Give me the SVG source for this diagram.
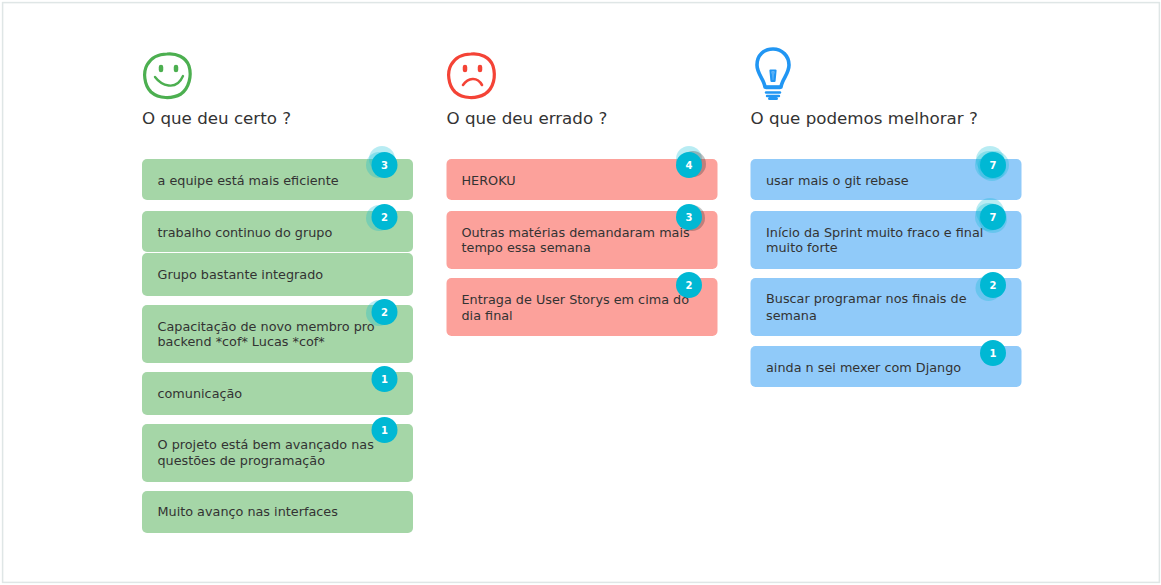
<svg xmlns="http://www.w3.org/2000/svg" width="1161" height="585" viewBox="0 0 1161 585">
<style>
.t{font-family:"DejaVu Sans",sans-serif;font-size:12.8px;fill:#333;}
.h{font-family:"DejaVu Sans",sans-serif;font-size:16.7px;fill:#333;}
.b{font-family:"DejaVu Sans",sans-serif;font-size:10px;font-weight:bold;fill:#fff;text-anchor:middle;}
.g{fill:#a5d6a7}.r{fill:#fca19b}.u{fill:#90caf9}
.bc{fill:#00b8d4}
.gh{fill:#00bcd4;opacity:.28}
.gk{fill:#333;opacity:.3}
.ic{fill:none;stroke-width:3.2;stroke-linecap:round;stroke-linejoin:round}
</style>
<rect x="2.600" y="2.600" width="1156.800" height="579.800" fill="#fff" stroke="#dfe6e6" stroke-width="1.500"/>

<g id="icon-happy" class="ic" stroke="#4caf50">
<path d="M167 54C176 53 186 57 189 66C192 76 189 88 181 94C172 99 159 99 151 92C144 85 143 72 147 65C151 58 158 54 167 54Z"/>
<path d="M155 77C161 85 176 92 183 76" stroke-width="2.400"/>
<path d="M161 67v3M176 67v3" stroke-width="4.500"/>
</g>
<text id="head-1" class="h" x="142" y="124">O que deu certo ?</text>

<g id="icon-sad" class="ic" stroke="#f44336">
<path d="M471 54C480 53 490 57 493 66C496 76 494 88 485 94C476 99 463 99 455 92C448 85 447 72 451 65C455 58 462 54 471 54Z"/>
<path d="M463 85C468 78 477 76 482 85" stroke-width="2.600"/>
<path d="M465 67v3M480 67v3" stroke-width="4.500"/>
</g>
<text id="head-2" class="h" x="446.500" y="124">O que deu errado ?</text>

<g id="icon-bulb" class="ic" stroke="#2196f3">
<path d="M765 87C764 79 757 74 757 65C757 55 764 49 773 49C782 49 789 56 789 65C789 74 782 79 781 87Z" stroke-width="3.600"/>
<path d="M766 87.500H780" stroke-width="3.500"/>
<path d="M766 92.500H780" stroke-width="2.400"/>
<path d="M767 96H779" stroke-width="2.400"/>
<path d="M769.500 98.500H776.500" stroke-width="3"/>
<path d="M770.500 70.500L775.500 70.500L774.500 81L771.500 81Z" stroke-width="2.200"/>
<path d="M773 72V80" stroke-width="1.500"/>
</g>
<text id="head-3" class="h" x="750.500" y="124">O que podemos melhorar ?</text>

<g id="card-g1"><rect class="g" x="142" y="159" width="271" height="41" rx="5"/><text class="t" x="157.500" y="185">a equipe está mais eficiente</text>
<circle class="gh" cx="382" cy="159" r="13"/><circle class="gh" cx="379" cy="165" r="13"/><circle class="bc" cx="384.500" cy="165" r="13"/><text class="b" x="384.500" y="168.500">3</text></g>
<g id="card-g2"><rect class="g" x="142" y="211" width="271" height="41" rx="5"/><text class="t" x="157.500" y="237">trabalho continuo do grupo</text>
<circle class="gh" cx="379" cy="218" r="13"/><circle class="bc" cx="384.500" cy="217" r="13"/><text class="b" x="384.500" y="220.500">2</text></g>
<g id="card-g3"><rect class="g" x="142" y="253" width="271" height="43" rx="5"/><text class="t" x="157.500" y="279">Grupo bastante integrado</text></g>
<g id="card-g4"><rect class="g" x="142" y="305" width="271" height="58" rx="5"/><text class="t" x="157.500" y="331">Capacitação de novo membro pro</text><text class="t" x="157.500" y="346">backend *cof* Lucas *cof*</text>
<circle class="gh" cx="379" cy="313" r="13"/><circle class="bc" cx="384.500" cy="312" r="13"/><text class="b" x="384.500" y="315.500">2</text></g>
<g id="card-g5"><rect class="g" x="142" y="372" width="271" height="43" rx="5"/><text class="t" x="157.500" y="398">comunicação</text>
<circle class="bc" cx="384.500" cy="379" r="13"/><text class="b" x="384.500" y="382.500">1</text></g>
<g id="card-g6"><rect class="g" x="142" y="424" width="271" height="58" rx="5"/><text class="t" x="157.500" y="449">O projeto está bem avançado nas</text><text class="t" x="157.500" y="465">questões de programação</text>
<circle class="bc" cx="384.500" cy="430" r="13"/><text class="b" x="384.500" y="433.500">1</text></g>
<g id="card-g7"><rect class="g" x="142" y="491" width="271" height="42" rx="5"/><text class="t" x="157.500" y="516">Muito avanço nas interfaces</text></g>

<g id="card-r1"><rect class="r" x="446.500" y="159" width="271" height="41" rx="5"/><text class="t" x="461.500" y="185">HEROKU</text>
<circle class="gh" cx="689" cy="159" r="13"/><circle class="gk" cx="693" cy="164" r="13"/><circle class="bc" cx="689" cy="165" r="13"/><text class="b" x="689" y="168.500">4</text></g>
<g id="card-r2"><rect class="r" x="446.500" y="211" width="271" height="58" rx="5"/><text class="t" x="461.500" y="237">Outras matérias demandaram mais</text><text class="t" x="461.500" y="252">tempo essa semana</text>
<circle class="gk" cx="692" cy="218" r="13"/><circle class="bc" cx="689" cy="217" r="13"/><text class="b" x="689" y="220.500">3</text></g>
<g id="card-r3"><rect class="r" x="446.500" y="278" width="271" height="58" rx="5"/><text class="t" x="461.500" y="304">Entraga de User Storys em cima do</text><text class="t" x="461.500" y="320">dia final</text>
<circle class="bc" cx="689" cy="285" r="13"/><text class="b" x="689" y="288.500">2</text></g>

<g id="card-b1"><rect class="u" x="750.500" y="159" width="271" height="41" rx="5"/><text class="t" x="766" y="185">usar mais o git rebase</text>
<circle class="gh" cx="990" cy="160" r="14"/><circle class="gh" cx="989" cy="165" r="14"/><circle class="gh" cx="992" cy="167" r="14"/><circle class="gh" cx="995" cy="165" r="14"/><circle class="bc" cx="993" cy="165" r="13"/><text class="b" x="993" y="168.500">7</text></g>
<g id="card-b2"><rect class="u" x="750.500" y="211" width="271" height="58" rx="5"/><text class="t" x="766" y="237">Início da Sprint muito fraco e final</text><text class="t" x="766" y="252">muito forte</text>
<circle class="gh" cx="990" cy="212" r="14"/><circle class="gh" cx="989" cy="217" r="14"/><circle class="gh" cx="993" cy="219" r="14"/><circle class="bc" cx="993" cy="217" r="13"/><text class="b" x="993" y="220.500">7</text></g>
<g id="card-b3"><rect class="u" x="750.500" y="278" width="271" height="58" rx="5"/><text class="t" x="766" y="303">Buscar programar nos finais de</text><text class="t" x="766" y="320">semana</text>
<circle class="gh" cx="988.500" cy="288" r="13"/><circle class="bc" cx="993" cy="285" r="13"/><text class="b" x="993" y="288.500">2</text></g>
<g id="card-b4"><rect class="u" x="750.500" y="346" width="271" height="41" rx="5"/><text class="t" x="766" y="372">ainda n sei mexer com Django</text>
<circle class="bc" cx="993" cy="353" r="13"/><text class="b" x="993" y="356.500">1</text></g>
</svg>
